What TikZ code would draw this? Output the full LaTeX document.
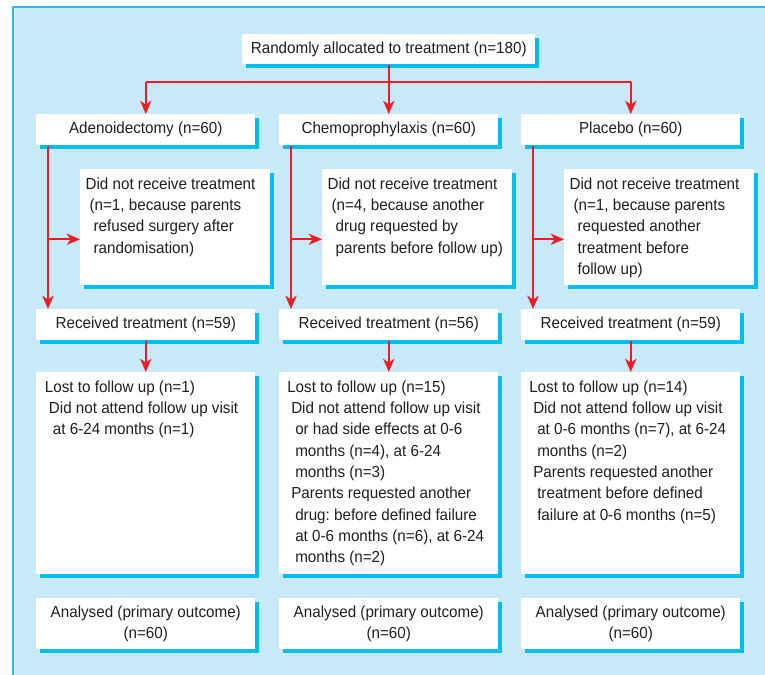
\documentclass[tikz,border=0pt]{standalone}
\usepackage{fontspec}
\setmainfont[FakeStretch=0.95]{Liberation Sans}
\usepackage{xcolor}
\usepackage{tikz}
\usetikzlibrary{arrows.meta, shadows}
\definecolor{panelblue}{HTML}{C8EAF8}
\definecolor{edgeblue}{HTML}{33B5E5}
\definecolor{shadowblue}{HTML}{00BDF2}
\definecolor{flowred}{HTML}{EE1C25}
\definecolor{inkgrey}{HTML}{231F20}
\frenchspacing
\tikzstyle{box} = [fill=white, anchor=north west, inner sep=0pt, text=inkgrey, font=\fontsize{12}{16}\selectfont, drop shadow={shadow xshift=3pt, shadow yshift=-3pt, fill=shadowblue, opacity=1}]
\tikzstyle{cbox} = [box, align=center, minimum width=164.25pt, minimum height=23.25pt]
\tikzstyle{link} = [draw=flowred, line width=1.5pt]
\tikzstyle{arr} = [link, -{Stealth[length=10pt, width=8.5pt, inset=3pt]}]
% text block hung from the top of a white box
\newcommand{\topbox}[4]{\begin{minipage}[t][#1][t]{#2}\leftskip=#3\rule{0pt}{15pt}#4\end{minipage}}

\begin{document}
\begin{tikzpicture}[x=0.75pt, y=-0.75pt]
	\useasboundingbox (0,0) rectangle (765,675);
	\fill[panelblue] (13,7) rectangle (765,675);
	\draw[edgeblue, line width=1.2pt] (765,7) -- (13,7) -- (13,675);

	\node[cbox, minimum width=219.75pt, minimum height=22.5pt] (alloc) at (242,34) {Randomly allocated to treatment (n=180)};

	% arms
	\node[cbox] (adeno) at (36,114) {Adenoidectomy (n=60)};
	\node[cbox] (chemo) at (279,114) {Chemoprophylaxis (n=60)};
	\node[cbox] (placebo) at (521,114) {Placebo (n=60)};

	\node[box] (none1) at (80,169) {\topbox{87pt}{142.5pt}{4pt}{Did not receive treatment\\
		\hspace*{3pt}(n=1, because parents\\
		\hspace*{6pt}refused surgery after\\
		\hspace*{6pt}randomisation)}};
	\node[box] (none2) at (322,169) {\topbox{87pt}{142.5pt}{4pt}{Did not receive treatment\\
		\hspace*{3pt}(n=4, because another\\
		\hspace*{6pt}drug requested by\\
		\hspace*{6pt}parents before follow up)}};
	\node[box] (none3) at (564,169) {\topbox{87pt}{142.5pt}{4pt}{Did not receive treatment\\
		\hspace*{3pt}(n=1, because parents\\
		\hspace*{6pt}requested another\\
		\hspace*{6pt}treatment before\\
		\hspace*{6pt}follow up)}};

	\node[cbox] (got1) at (36,309) {Received treatment (n=59)};
	\node[cbox] (got2) at (279,309) {Received treatment (n=56)};
	\node[cbox] (got3) at (521,309) {Received treatment (n=59)};

	\node[box] (lost1) at (36,372) {\topbox{151.5pt}{164.25pt}{6.5pt}{Lost to follow up (n=1)\\
		\hspace*{3pt}Did not attend follow up visit\\
		\hspace*{6pt}at 6-24 months (n=1)}};
	\node[box] (lost2) at (279,372) {\topbox{151.5pt}{164.25pt}{6pt}{Lost to follow up (n=15)\\
		\hspace*{3pt}Did not attend follow up visit\\
		\hspace*{6pt}or had side effects at 0-6\\
		\hspace*{6pt}months (n=4), at 6-24\\
		\hspace*{6pt}months (n=3)\\
		\hspace*{3pt}Parents requested another\\
		\hspace*{6pt}drug: before defined failure\\
		\hspace*{6pt}at 0-6 months (n=6), at 6-24\\
		\hspace*{6pt}months (n=2)}};
	\node[box] (lost3) at (521,372) {\topbox{151.5pt}{164.25pt}{6pt}{Lost to follow up (n=14)\\
		\hspace*{3pt}Did not attend follow up visit\\
		\hspace*{6pt}at 0-6 months (n=7), at 6-24\\
		\hspace*{6pt}months (n=2)\\
		\hspace*{3pt}Parents requested another\\
		\hspace*{6pt}treatment before defined\\
		\hspace*{6pt}failure at 0-6 months (n=5)}};

	\node[cbox, minimum height=38.25pt] (done1) at (36,598) {Analysed (primary outcome)\\(n=60)};
	\node[cbox, minimum height=38.25pt] (done2) at (279,598) {Analysed (primary outcome)\\(n=60)};
	\node[cbox, minimum height=38.25pt] (done3) at (521,598) {Analysed (primary outcome)\\(n=60)};

	% connectors
	\coordinate (bar) at (0,82);
	\draw[link] (adeno.north |- bar) -- (placebo.north |- bar);
	\draw[arr] (alloc.south) -- (chemo.north);
	\draw[arr] (adeno.north |- bar) -- (adeno.north);
	\draw[arr] (placebo.north |- bar) -- (placebo.north);

	\foreach \arm/\i in {adeno/1, chemo/2, placebo/3} {
		\coordinate (side\i) at ([xshift=9pt]\arm.south west);
		\coordinate (hit\i) at ([yshift=-9pt]none\i.west);
		\draw[arr] (side\i) -- (side\i |- got\i.north);
		\draw[arr] (side\i |- hit\i) -- (hit\i);
		\draw[arr] (got\i.south) -- (lost\i.north);
	}
\end{tikzpicture}
\end{document}
